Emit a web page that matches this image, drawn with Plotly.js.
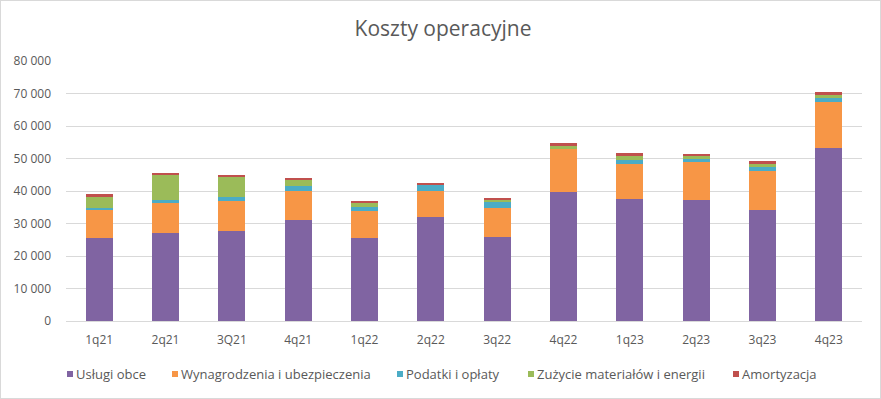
<!DOCTYPE html>
<html>
<head>
<meta charset="utf-8">
<script src="https://cdn.plot.ly/plotly-3.0.1.min.js"></script>
<style>
html,body{margin:0;padding:0;background:#fff;}
#wrap{width:879px;height:397px;border:1px solid #D9D9D9;}
</style>
</head>
<body>
<div id="wrap"><div id="chart"></div></div>
<script>
const categories = ["1q21","2q21","3Q21","4q21","1q22","2q22","3q22","4q22","1q23","2q23","3q23","4q23"];
const uslugiObce = [25600,27100,27700,31100,25500,32000,25800,39700,37500,37200,34200,53200];
const wynagrodzenia = [8600,9200,9200,8900,8300,8000,9100,13200,10900,11800,12000,14200];
const podatki = [700,900,1300,1500,1300,1800,1800,100,1200,800,1200,1200];
const zuzycie = [3300,7700,6100,1900,1200,100,500,900,1200,1000,900,900];
const amortyzacja = [900,600,600,600,600,500,600,900,900,600,900,1000];
const seriesNames = ["Usługi obce","Wynagrodzenia i ubezpieczenia","Podatki i opłaty","Zużycie materiałów i energii","Amortyzacja"];
const seriesColors = ["#8064A2","#F79646","#4BACC6","#9BBB59","#C0504D"];
const seriesData = [uslugiObce,wynagrodzenia,podatki,zuzycie,amortyzacja];
const yTickVals = [0,10000,20000,30000,40000,50000,60000,70000,80000];

// layout geometry (page pixels)
const W = 879, H = 397, OFF = 1;
const plotL = 66, plotR = 862, plotT = 61, plotB = 321;
const px = x => (x - plotL) / (plotR - plotL);
const py = y => (plotB - y) / (plotB - plotT);
const legendMarkerX = [67, 172, 397, 528, 733];
const legendY = 374;

const traces = seriesData.map((d,i)=>({
  type:'bar', name:seriesNames[i], x:categories, y:d,
  marker:{color:seriesColors[i]}, hoverinfo:'x+y+name'
}));
const font = "Open Sans, Liberation Sans, Arial, sans-serif";
const shapes = seriesColors.map((c,i)=>({
  type:'rect', xref:'paper', yref:'paper',
  x0:px(legendMarkerX[i]), x1:px(legendMarkerX[i]+6),
  y0:py(legendY+3), y1:py(legendY-3),
  fillcolor:c, line:{width:0}
}));
const annotations = seriesNames.map((n,i)=>({
  text:n, xref:'paper', yref:'paper', x:px(legendMarkerX[i]+7), y:py(legendY),
  xanchor:'left', yanchor:'middle', showarrow:false,
  font:{family:font, size:13, color:'#595959'}
}));
const layout = {
  width:W, height:H,
  barmode:'stack', bargap:0.59,
  separators:'. ',
  paper_bgcolor:'#fff', plot_bgcolor:'#fff',
  margin:{l:plotL-OFF, r:W-(plotR-OFF), t:plotT-OFF, b:H-(plotB-OFF), pad:0},
  title:{text:'Koszty operacyjne', x:(443-OFF)/W, xanchor:'center', xref:'container', y:1-28/H, yanchor:'middle',
    font:{family:font, size:21, color:'#595959'}},
  xaxis:{showgrid:false, showline:true, linecolor:'#D9D9D9', linewidth:1,
    tickfont:{family:font,size:12,color:'#595959'}, ticks:'', ticklabelstandoff:8, fixedrange:true},
  yaxis:{range:[0,80000], tickvals:yTickVals, tickformat:',d', showgrid:true, gridcolor:'#D9D9D9',
    gridwidth:1, zeroline:false, showline:false, ticks:'', ticklen:0, ticklabelstandoff:14,
    tickfont:{family:font,size:12,color:'#595959'}, fixedrange:true},
  showlegend:false,
  shapes:shapes,
  annotations:annotations
};
Plotly.newPlot('chart', traces, layout, {displayModeBar:false, staticPlot:true});
</script>
</body>
</html>
